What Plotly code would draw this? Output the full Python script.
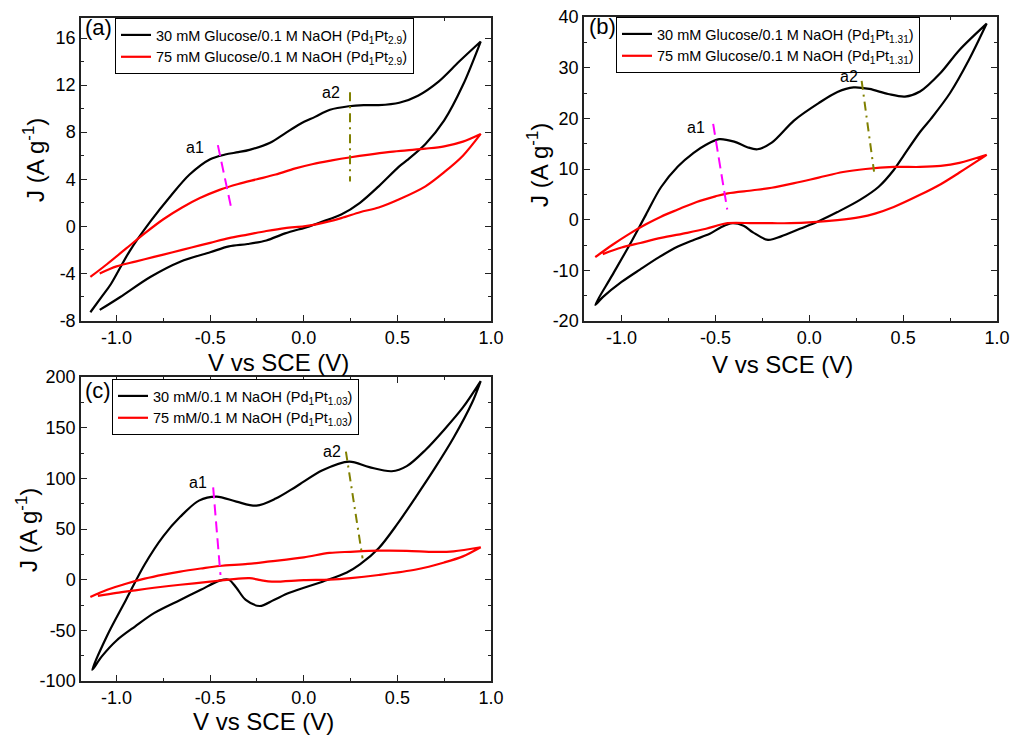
import plotly.graph_objects as go

# ---------------- data ----------------
# Panel (a) Pd1Pt2.9
a_V30_fwd = [-1.14, -1.08, -1.03, -0.93, -0.82, -0.71, -0.61, -0.5, -0.42, -0.35, -0.29, -0.18, -0.1, -0.02, 0.06, 0.14, 0.24, 0.32, 0.40, 0.51, 0.61, 0.72, 0.83, 0.945]
a_J30_fwd = [-7.3, -6.0, -4.9, -2.1, 0.4, 2.6, 4.4, 5.7, 6.1, 6.3, 6.5, 7.1, 7.9, 8.7, 9.3, 9.9, 10.2, 10.3, 10.3, 10.5, 11.1, 12.3, 14.0, 15.7]
a_V30_bwd = [0.945, 0.85, 0.75, 0.65, 0.55, 0.51, 0.4, 0.3, 0.2, 0.1, 0.03, -0.1, -0.2, -0.3, -0.4, -0.5, -0.66, -0.82, -0.98, -1.09]
a_J30_bwd = [15.7, 12.0, 9.0, 7.0, 5.6, 5.1, 3.4, 2.0, 1.0, 0.4, 0.0, -0.6, -1.2, -1.5, -1.7, -2.2, -3.0, -4.3, -6.0, -7.1]
a_V75_fwd = [-1.14, -1.05, -0.95, -0.85, -0.75, -0.65, -0.555, -0.45, -0.35, -0.25, -0.15, -0.05, 0.05, 0.15, 0.243, 0.35, 0.45, 0.55, 0.65, 0.75, 0.85, 0.945]
a_J75_fwd = [-4.3, -3.2, -1.9, -0.6, 0.6, 1.6, 2.4, 3.1, 3.6, 4.0, 4.4, 4.9, 5.3, 5.6, 5.85, 6.1, 6.3, 6.45, 6.6, 6.8, 7.2, 7.85]
a_V75_bwd = [0.945, 0.85, 0.75, 0.65, 0.51, 0.40, 0.30, 0.2, 0.066, 0.0, -0.1, -0.2, -0.3, -0.4, -0.5, -0.6, -0.7, -0.8, -0.9, -1.0, -1.09]
a_J75_bwd = [7.85, 6.0, 4.6, 3.4, 2.3, 1.6, 1.2, 0.7, 0.17, 0.0, -0.15, -0.4, -0.7, -1.0, -1.4, -1.8, -2.2, -2.6, -3.0, -3.4, -4.0]

# Panel (b) Pd1Pt1.31
b_V30_fwd = [-1.14, -1.05, -0.95, -0.87, -0.79, -0.7, -0.616, -0.55, -0.48, -0.4, -0.33, -0.276, -0.2, -0.08, 0.05, 0.15, 0.236, 0.32, 0.42, 0.51, 0.59, 0.7, 0.8, 0.945]
b_J30_fwd = [-16.8, -11.0, -4.5, 1.0, 6.4, 10.5, 13.2, 14.8, 15.9, 15.4, 14.3, 13.9, 15.2, 19.6, 23.0, 25.2, 26.1, 25.8, 24.8, 24.3, 25.3, 29.0, 33.5, 38.7]
b_V30_bwd = [0.945, 0.85, 0.75, 0.65, 0.59, 0.5, 0.45, 0.37, 0.27, 0.15, 0.05, -0.05, -0.15, -0.22, -0.3, -0.35, -0.41, -0.47, -0.53, -0.616, -0.7, -0.8, -0.9, -1.0, -1.1, -1.14]
b_J30_bwd = [38.7, 31.5, 25.0, 20.0, 17.3, 12.5, 9.8, 6.5, 3.9, 1.5, -0.3, -1.8, -3.3, -4.0, -2.5, -1.2, -0.7, -1.5, -2.8, -4.0, -5.3, -7.4, -9.8, -12.3, -15.3, -16.8]
b_V75_fwd = [-1.14, -1.05, -0.95, -0.87, -0.79, -0.7, -0.6, -0.5, -0.435, -0.3, -0.2, -0.08, 0.05, 0.18, 0.3, 0.45, 0.59, 0.7, 0.8, 0.945]
b_J75_fwd = [-7.4, -5.0, -2.6, -0.9, 0.6, 2.0, 3.5, 4.6, 5.2, 5.8, 6.3, 7.2, 8.3, 9.4, 10.0, 10.4, 10.4, 10.6, 11.2, 12.8]
b_V75_bwd = [0.945, 0.9, 0.8, 0.7, 0.59, 0.45, 0.35, 0.27, 0.15, 0.02, -0.1, -0.2, -0.3, -0.435, -0.55, -0.65, -0.79, -0.9, -1.0, -1.1]
b_J75_bwd = [12.8, 11.7, 9.3, 7.0, 4.9, 2.5, 1.2, 0.5, -0.1, -0.5, -0.7, -0.7, -0.7, -0.7, -1.8, -2.6, -3.6, -4.6, -5.5, -6.8]

# Panel (c) Pd1Pt1.03
c_V30_fwd = [-1.13, -1.05, -0.95, -0.85, -0.75, -0.66, -0.56, -0.466, -0.36, -0.253, -0.15, -0.04, 0.1, 0.243, 0.35, 0.47, 0.55, 0.65, 0.75, 0.85, 0.945]
c_J30_fwd = [-89, -55, -20, 15, 43, 62, 78, 82, 77, 73, 80, 92, 108, 116.5, 111, 107, 112, 128, 148, 170, 196]
c_V30_bwd = [0.945, 0.9, 0.8, 0.7, 0.6, 0.5, 0.4, 0.3, 0.23, 0.1, -0.077, -0.16, -0.235, -0.31, -0.36, -0.4, -0.45, -0.55, -0.66, -0.8, -0.9, -1.0, -1.08, -1.13]
c_J30_bwd = [196, 175, 140, 110, 82, 55, 31, 15, 7, -2, -13, -20, -26, -20, -8, 0, -1, -10, -20, -33, -46, -60, -76, -89]
c_V75_fwd = [-1.14, -1.05, -0.95, -0.85, -0.75, -0.66, -0.55, -0.45, -0.3, -0.18, 0.0, 0.137, 0.25, 0.4, 0.55, 0.7, 0.8, 0.945]
c_J75_fwd = [-17, -10, -4, 1, 5, 8, 11, 13.5, 15.5, 18, 22, 26.4, 27.5, 28.6, 28.5, 27.5, 28, 32]
c_V75_bwd = [0.945, 0.85, 0.75, 0.6, 0.4, 0.25, 0.137, 0.0, -0.17, -0.23, -0.29, -0.4, -0.5, -0.66, -0.8, -0.9, -1.0, -1.1]
c_J75_bwd = [32, 23, 17, 10, 4.6, 1.5, 0, -0.5, -2, -0.5, 1.5, 0, -2, -5, -8, -10.5, -13, -16]

# peak marker lines (a1, a2) per panel: [V_start, V_end], [J_start, J_end]
a_a1_V, a_a1_J = [-0.459, -0.384], [6.9, 1.3]
a_a2_V, a_a2_J = [0.247, 0.247], [11.4, 3.8]
b_a1_V, b_a1_J = [-0.512, -0.437], [18.9, 2.0]
b_a2_V, b_a2_J = [0.279, 0.345], [27.4, 9.5]
c_a1_V, c_a1_J = [-0.484, -0.445], [91, 4.6]
c_a2_V, c_a2_J = [0.225, 0.314], [126.3, 21.1]

# peak label positions
a_lbl = {"a1": (-0.58, 6.7), "a2": (0.148, 11.4)}
b_lbl = {"a1": (-0.606, 18.1), "a2": (0.21, 28.2)}
c_lbl = {"a1": (-0.565, 95.5), "a2": (0.152, 126)}

# legend names
a_names = ["30 mM Glucose/0.1 M NaOH (Pd<sub>1</sub>Pt<sub>2.9</sub>)", "75 mM Glucose/0.1 M NaOH (Pd<sub>1</sub>Pt<sub>2.9</sub>)"]
b_names = ["30 mM Glucose/0.1 M NaOH (Pd<sub>1</sub>Pt<sub>1.31</sub>)", "75 mM Glucose/0.1 M NaOH (Pd<sub>1</sub>Pt<sub>1.31</sub>)"]
c_names = ["30 mM/0.1 M NaOH (Pd<sub>1</sub>Pt<sub>1.03</sub>)", "75 mM/0.1 M NaOH (Pd<sub>1</sub>Pt<sub>1.03</sub>)"]

# tick labels
x_tickvals = [-1.0, -0.5, 0.0, 0.5, 1.0]
x_ticktext = ["-1.0", "-0.5", "0.0", "0.5", "1.0"]
a_yvals = [-8, -4, 0, 4, 8, 12, 16]
a_ytext = ["-8", "-4", "0", "4", "8", "12", "16"]
b_yvals = [-20, -10, 0, 10, 20, 30, 40]
b_ytext = ["-20", "-10", "0", "10", "20", "30", "40"]
c_yvals = [-100, -50, 0, 50, 100, 150, 200]
c_ytext = ["-100", "-50", "0", "50", "100", "150", "200"]

# ---------------- figure ----------------
W, H = 1012, 735
FONT = "Liberation Sans"

def px(x):
    return x / W

def py(y):
    return 1 - y / H

fig = go.Figure()

panels = [
    ("x", "y", "legend", a_names, (a_V30_fwd, a_J30_fwd, a_V30_bwd, a_J30_bwd), (a_V75_fwd, a_J75_fwd, a_V75_bwd, a_J75_bwd),
     (a_a1_V, a_a1_J), (a_a2_V, a_a2_J), a_lbl),
    ("x2", "y2", "legend2", b_names, (b_V30_fwd, b_J30_fwd, b_V30_bwd, b_J30_bwd), (b_V75_fwd, b_J75_fwd, b_V75_bwd, b_J75_bwd),
     (b_a1_V, b_a1_J), (b_a2_V, b_a2_J), b_lbl),
    ("x3", "y3", "legend3", c_names, (c_V30_fwd, c_J30_fwd, c_V30_bwd, c_J30_bwd), (c_V75_fwd, c_J75_fwd, c_V75_bwd, c_J75_bwd),
     (c_a1_V, c_a1_J), (c_a2_V, c_a2_J), c_lbl),
]

for xa, ya, lg, names, d30, d75, l1, l2, lbl in panels:
    for d, col, nm in ((d30, "black", names[0]), (d75, "#ff0000", names[1])):
        fig.add_trace(go.Scatter(x=d[0] + d[2], y=d[1] + d[3], mode="lines", name=nm,
                                 line=dict(color=col, width=2.2, shape="spline", smoothing=0.9),
                                 xaxis=xa, yaxis=ya, legend=lg))
    fig.add_trace(go.Scatter(x=l1[0], y=l1[1], mode="lines", showlegend=False,
                             line=dict(color="#ff00ff", width=2, dash="11px,6px"), xaxis=xa, yaxis=ya))
    fig.add_trace(go.Scatter(x=l2[0], y=l2[1], mode="lines", showlegend=False,
                             line=dict(color="#808000", width=2, dash="9px,5px,2px,5px"), xaxis=xa, yaxis=ya))
    for t, (vx, vy) in lbl.items():
        fig.add_annotation(x=vx, y=vy, xref=xa, yref=ya, text=t, showarrow=False,
                           xanchor="center", yanchor="middle",
                           font=dict(family=FONT, size=16, color="black"))

MINOR = dict(ticks="inside", ticklen=3, tickwidth=1.2, tickcolor="#222")

def axstyle(**kw):
    d = dict(showline=True, linecolor="#222", linewidth=1.5, mirror="allticks", ticks="inside",
             ticklen=6, tickwidth=1.3, tickcolor="#222", showgrid=False, zeroline=False, automargin=False,
             tickfont=dict(family=FONT, size=18, color="black"), tickmode="array")
    d.update(kw)
    return d

xr = [-1.19, 1.0]
fig.update_layout(
    width=W, height=H, margin=dict(l=0, r=0, t=0, b=0, autoexpand=False),
    paper_bgcolor="white", plot_bgcolor="white",
    xaxis=axstyle(domain=[px(81), px(491)], range=xr, anchor="y", tickvals=x_tickvals, ticktext=x_ticktext,
                  minor=dict(dtick=0.25, tick0=0, **MINOR)),
    yaxis=axstyle(domain=[py(320.5), py(18)], range=[-8, 17.7], anchor="x", tickvals=a_yvals, ticktext=a_ytext,
                  minor=dict(dtick=2, tick0=0, **MINOR)),
    xaxis2=axstyle(domain=[px(584), px(997)], range=[-1.2, 1.0], anchor="y2", tickvals=x_tickvals, ticktext=x_ticktext,
                   minor=dict(dtick=0.25, tick0=0, **MINOR)),
    yaxis2=axstyle(domain=[py(321), py(17)], range=[-20, 40], anchor="x2", tickvals=b_yvals, ticktext=b_ytext,
                   minor=dict(dtick=5, tick0=0, **MINOR)),
    xaxis3=axstyle(domain=[px(81), px(491)], range=xr, anchor="y3", tickvals=x_tickvals, ticktext=x_ticktext,
                   minor=dict(dtick=0.25, tick0=0, **MINOR)),
    yaxis3=axstyle(domain=[py(681), py(377)], range=[-100, 200], anchor="x3", tickvals=c_yvals, ticktext=c_ytext,
                   minor=dict(dtick=25, tick0=0, **MINOR)),
)

legstyle = dict(xanchor="left", yanchor="top", bordercolor="black", borderwidth=1, bgcolor="white",
                font=dict(family=FONT, size=14.5, color="black"), itemwidth=30, tracegroupgap=0)
fig.update_layout(
    legend=dict(x=px(115), y=py(18), **legstyle),
    legend2=dict(x=px(616), y=py(17), **legstyle),
    legend3=dict(x=px(112), y=py(379), **legstyle),
)

# panel labels
for t, (x, y) in {"(a)": (98, 28), "(b)": (602, 27), "(c)": (98, 390)}.items():
    fig.add_annotation(x=px(x), y=py(y), xref="paper", yref="paper", text=t, showarrow=False,
                       xanchor="center", yanchor="middle",
                       font=dict(family=FONT, size=22, color="black"))

# axis titles
for (x, y) in [(278, 363), (782, 364), (263, 721)]:
    fig.add_annotation(x=px(x), y=py(y), xref="paper", yref="paper", text="V vs SCE (V)", showarrow=False,
                       xanchor="center", yanchor="middle",
                       font=dict(family=FONT, size=24, color="black"))
for (x, y) in [(34, 160), (538, 165), (27, 530)]:
    fig.add_annotation(x=px(x), y=py(y), xref="paper", yref="paper", text="J (A g<sup>-1</sup>)", showarrow=False,
                       xanchor="center", yanchor="middle",
                       textangle=-90, font=dict(family=FONT, size=24, color="black"))

fig.write_html("out.html")
